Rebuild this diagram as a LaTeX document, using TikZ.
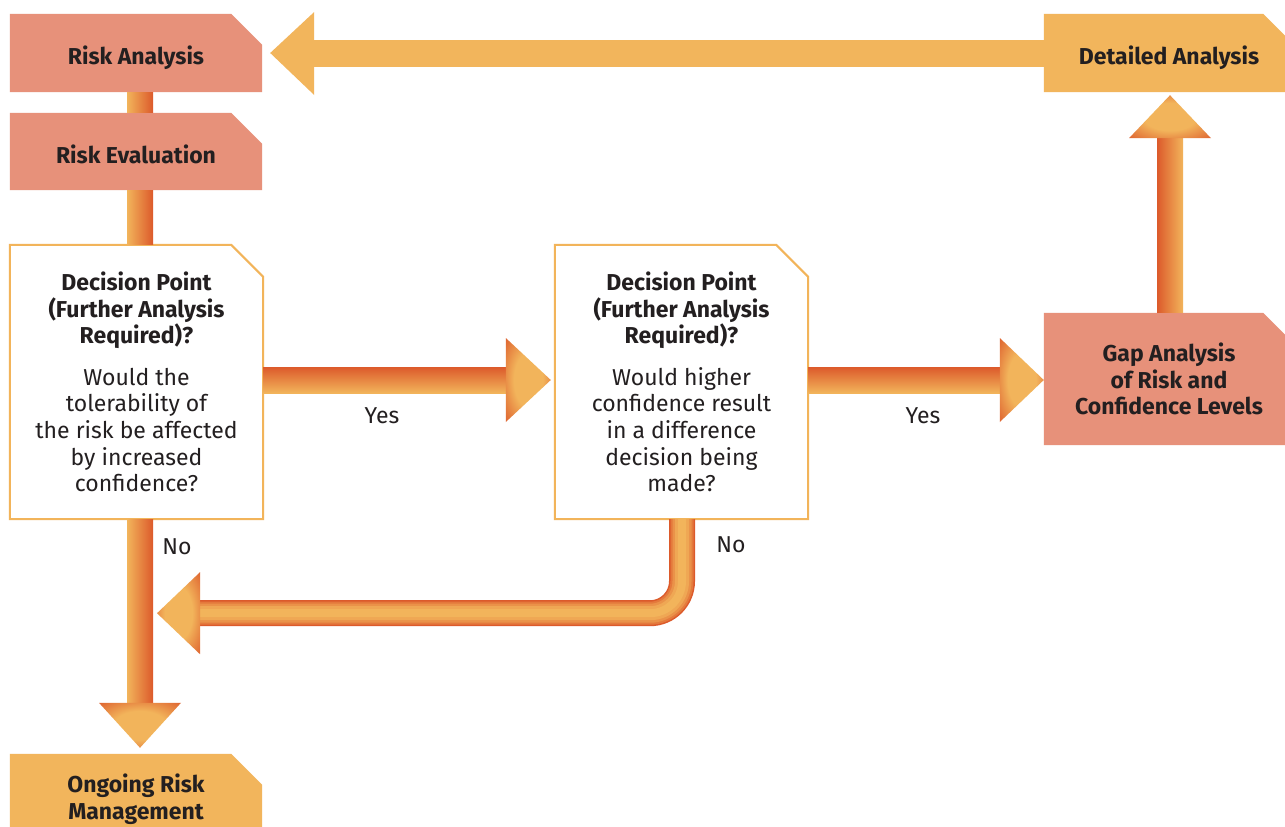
\documentclass[tikz,border=0pt]{standalone}
\usepackage{fontspec}
\setmainfont{Fira Sans}
\usetikzlibrary{calc,backgrounds}
\definecolor{salmon}{HTML}{E7917A}
\definecolor{lorange}{HTML}{F2B55C}
\definecolor{dk}{HTML}{DC5A2B}
\definecolor{lt}{HTML}{F2B45B}
\definecolor{ink}{HTML}{231F20}
\definecolor{borderc}{HTML}{F2B45A}
\pgfdeclareradialshading{headshade}{\pgfpoint{0bp}{0bp}}{color(0bp)=(lt); color(16bp)=(lt); color(38bp)=(dk); color(70bp)=(dk)}
\newcommand\cutbox[3]{\path[#2] (#1.south west) -- (#1.north west) -- ([xshift=-#3pt]#1.north east) -- ([yshift=-#3pt]#1.north east) -- (#1.south east) -- cycle;}
\newcommand\B[1]{{\bfseries #1}}
\tikzset{
  box/.style={inner sep=0pt, text=ink, align=center, font=\fontsize{23}{26.6}\selectfont},
  oneline/.style={text height=23pt, text depth=0pt},
  salmonfill/.style={fill=salmon},
  orangefill/.style={fill=lorange},
  decfill/.style={fill=white, draw=borderc, line width=2pt},
  lbl/.style={inner sep=0pt, text=ink, font=\fontsize{23}{26}\selectfont},
  hshaft/.style={top color=dk, bottom color=lt},
  vshaftLR/.style={left color=lt, right color=dk},
  vshaftRL/.style={left color=dk, right color=lt},
  headsh/.style={shading=headshade},
  flatarrow/.style={fill=lorange},
}
\begin{document}
\begin{tikzpicture}[x=1pt,y=-1pt]
\useasboundingbox (0,0) rectangle (1285,827);
% boxes
\node[box, oneline, minimum width=252, minimum height=78] (ra) at (136,53) {\B{Risk Analysis}};
\node[box, oneline, minimum width=252, minimum height=77] (re) at (136,151.5) {\B{Risk Evaluation}};
\node[box, minimum width=253, minimum height=274] (d1) at (136.5,382)
  {\B{Decision Point}\\\B{(Further Analysis}\\\B{Required)?}\\[15pt]Would the\\tolerability of\\the risk be affected\\by increased\\confidence?};
\node[box, minimum width=253, minimum height=274] (d2) at (681.5,382)
  {\B{Decision Point}\\\B{(Further Analysis}\\\B{Required)?}\\[15pt]Would higher\\confidence result\\in a difference\\decision being\\made?};
\node[box, minimum width=250, minimum height=132] (gap) at (1169,379)
  {\B{Gap Analysis}\\\B{of Risk and}\\\B{Confidence Levels}};
\node[box, oneline, minimum width=250, minimum height=78] (da) at (1169,53) {\B{Detailed Analysis}};
\node[box, minimum width=252, minimum height=90] (om) at (136,799) {\B{Ongoing Risk}\\\B{Management}};
% box shapes
\begin{scope}[on background layer]
  \fill[white] (0,0) rectangle (1285,827);
  \cutbox{ra}{salmonfill}{31}
  \cutbox{re}{salmonfill}{31}
  \cutbox{d1}{decfill}{32}
  \cutbox{d2}{decfill}{32}
  \cutbox{gap}{salmonfill}{31}
  \cutbox{da}{orangefill}{31}
  \cutbox{om}{orangefill}{31}
\end{scope}
% short bars
\shade[vshaftLR] ($(ra.south)+(-9,0)$) rectangle ($(re.north)+(17,0)$);
\shade[vshaftLR] ($(re.south)+(-9,0)$) rectangle ($(d1.north)+(16.5,0)$);
% d1 -> d2
\coordinate (s1) at ($(d1.east)+(0,-2)$);
\coordinate (t1) at ($(d2.west)+(-4,-2)$);
\shade[hshaft] ($(s1)+(0,-13)$) rectangle ($(t1)+(-45,13)$);
\shade[headsh] ($(t1)+(-45,-42)$) -- (t1) -- ($(t1)+(-45,42)$) -- cycle;
% d2 -> gap
\coordinate (s2) at ($(d2.east)+(0,-2)$);
\coordinate (t2) at ($(gap.west)+(0,1)$);
\shade[hshaft] ($(s2)+(0,-13)$) rectangle ($(t2)+(-44,13)$);
\shade[headsh] ($(t2)+(-44,-42)$) -- (t2) -- ($(t2)+(-44,42)$) -- cycle;
% gap -> da
\coordinate (s3) at ($(gap.north)+(1,0)$);
\coordinate (t3) at ($(da.south)+(1,3)$);
\shade[vshaftRL] ($(s3)+(-13,0)$) rectangle ($(t3)+(13,43)$);
\shade[headsh] ($(t3)+(-41,43)$) -- (t3) -- ($(t3)+(41,43)$) -- cycle;
% da -> ra
\coordinate (s4) at (da.west);
\coordinate (t4) at ($(ra.east)+(8,0)$);
\fill[flatarrow] ($(s4)+(0,-13.5)$) rectangle ($(t4)+(44,13.5)$);
\fill[flatarrow] ($(t4)+(44,-41)$) -- (t4) -- ($(t4)+(44,42)$) -- cycle;
% d1 -> om
\coordinate (s5) at ($(d1.south)+(3.5,0)$);
\coordinate (t5) at ($(om.north)+(4,-6)$);
\shade[vshaftLR] ($(s5)+(-13,0)$) rectangle ($(t5)+(13,-45)$);
\shade[headsh] ($(t5)+(-41,-45)$) -- (t5) -- ($(t5)+(41,-45)$) -- cycle;
% d2 -> back to the No line
\coordinate (s6) at ($(d2.south)+(0.5,0)$);
\coordinate (t6) at ($(s5)+(17,94)$);
\coordinate (h6) at ($(t6)+(43,0)$);
\foreach \w/\c in {26/dk, 23/dk!65!lt, 19/dk!38!lt, 14/dk!15!lt, 8/lt}
  {\draw[line width=\w, \c, rounded corners=32] (s6) |- (h6);}
\shade[headsh] ($(t6)+(43,-41)$) -- (t6) -- ($(t6)+(43,41)$) -- cycle;
% labels
\node[lbl] (y1) at (382,416) {Yes};
\node[lbl] (y2) at (923,416) {Yes};
\node[lbl] (n1) at (177,547) {No};
\node[lbl] (n2) at (731,545) {No};
\end{tikzpicture}
\end{document}
